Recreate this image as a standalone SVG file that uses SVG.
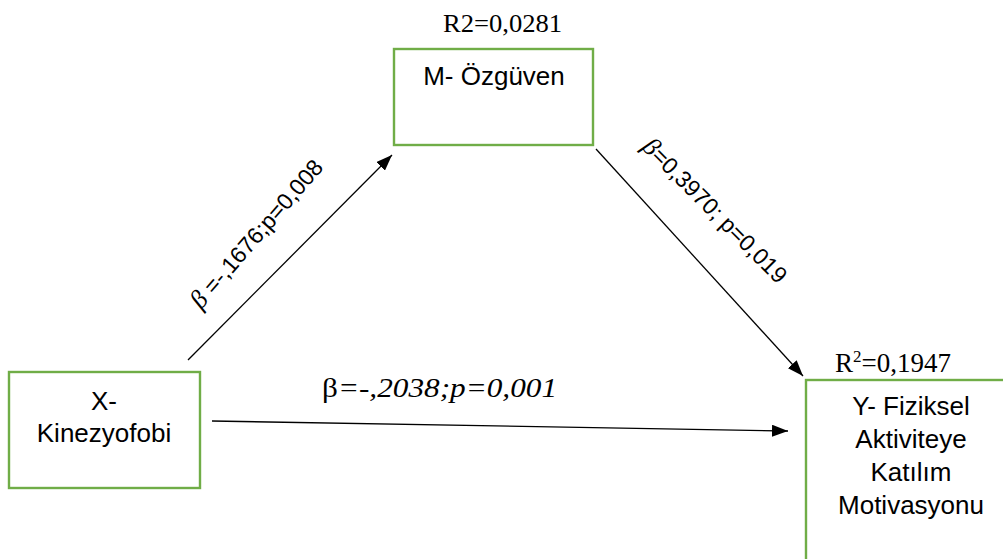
<svg xmlns="http://www.w3.org/2000/svg" width="1003" height="559" viewBox="0 0 1003 559">
<defs>
<style>
.box{fill:#fff;stroke:#70AD47;stroke-width:2.4}
.sans{font-family:"Liberation Sans",Arial,sans-serif;fill:#000}
.serif{font-family:"Liberation Serif","Times New Roman",serif;fill:#000}
.conn{stroke:#000;stroke-width:1.3;fill:none;marker-end:url(#ah)}
</style>
<marker id="ah" viewBox="0 0 16 12" refX="16" refY="6" markerWidth="16" markerHeight="12" markerUnits="userSpaceOnUse" orient="auto">
<path d="M0,0 L16,6 L0,12 z" fill="#000"/>
</marker>
</defs>
<rect width="1003" height="559" fill="#fff"/>
<g id="connectors">
<line class="conn" x1="188" y1="360" x2="392" y2="155"/>
<line class="conn" x1="596" y1="149" x2="803" y2="376"/>
<line class="conn" x1="212" y1="421" x2="788" y2="431"/>
</g>
<g id="node-M">
<text class="serif" x="443" y="32" font-size="25" textLength="119" lengthAdjust="spacingAndGlyphs">R2=0,0281</text>
<rect class="box" x="394" y="49" width="199" height="96"/>
<text class="sans" x="494" y="85" font-size="26" text-anchor="middle">M- Özgüven</text>
</g>
<g id="node-X">
<rect class="box" x="9" y="372" width="191" height="116"/>
<text class="sans" x="104" y="410" font-size="26" text-anchor="middle">X-</text>
<text class="sans" x="104" y="442" font-size="26" text-anchor="middle">Kinezyofobi</text>
</g>
<g id="node-Y">
<text class="serif" x="835" y="372" font-size="27">R<tspan font-size="17" dy="-10">2</tspan><tspan dy="10">=0,1947</tspan></text>
<rect class="box" x="806" y="380" width="210" height="200"/>
<g class="sans" font-size="26" text-anchor="middle">
<text x="911" y="415">Y- Fiziksel</text>
<text x="911" y="448">Aktiviteye</text>
<text x="911" y="481">Katılım</text>
<text x="911" y="514">Motivasyonu</text>
</g>
</g>
<g id="labels">
<text class="sans" font-size="23" transform="translate(201,310) rotate(-49)"><tspan class="serif" font-style="italic" font-size="26">β</tspan> =-,1676;p=0,008</text>
<text class="sans" font-size="23" transform="translate(641,148) rotate(45)"><tspan class="serif" font-style="italic" font-size="26">β</tspan>=0,3970; p=0,019</text>
<text class="serif" font-size="28" x="322" y="397" textLength="235" lengthAdjust="spacingAndGlyphs">β<tspan font-style="italic">=-,2038;p=0,001</tspan></text>
</g>
</svg>
